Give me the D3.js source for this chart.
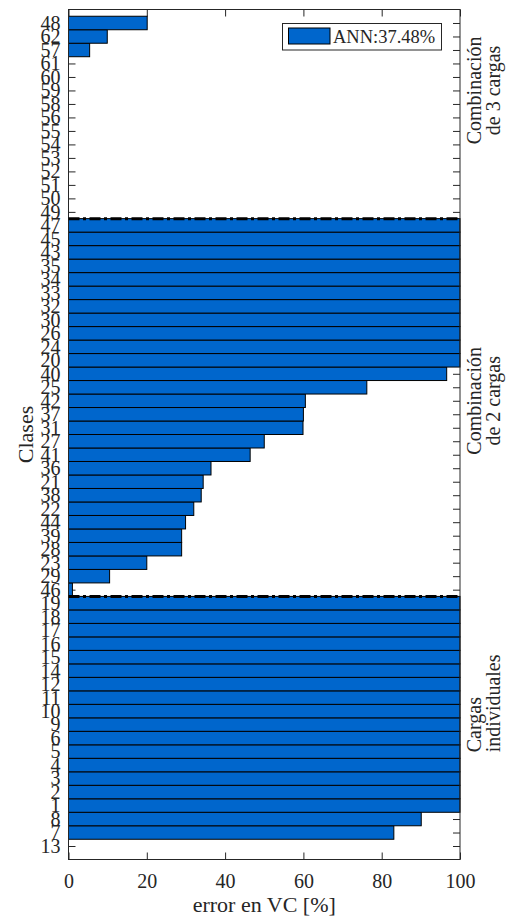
<!DOCTYPE html>
<html>
<head>
<meta charset="utf-8">
<script src="https://cdn.jsdelivr.net/npm/d3@7"></script>
<style>
  html, body { margin: 0; padding: 0; background: #fff; }
  svg { display: block; }
  text { font-family: "Liberation Serif", "Times New Roman", serif; fill: #262626; }
</style>
</head>
<body>
<svg id="chart" width="507" height="918"></svg>
<script>
// Classes, listed from the bottom of the axis to the top
const classes = [
  "13","7","8","1","2","3","4","5","6","9","10","11","12","14","15","16","17","18","19",
  "46","29","23","28","39","44","22","38","21","36","41","27","31","37","42","25","40",
  "20","24","26","30","32","33","34","35","43","45","47",
  "49","50","51","52","53","54","55","56","58","59","60","61","57","62","48"
];
// Error in VC [%] for each class (same order)
const errorVC = [
  0, 83.1, 90.1, 100, 100, 100, 100, 100, 100, 100, 100, 100, 100, 100, 100, 100, 100, 100, 100,
  1.0, 10.5, 20.0, 28.9, 28.9, 29.9, 32.0, 33.9, 34.4, 36.4, 46.4, 50.0, 59.9, 60.0, 60.5, 76.2, 96.6,
  100, 100, 100, 100, 100, 100, 100, 100, 100, 100, 100,
  0, 0, 0, 0, 0, 0, 0, 0, 0, 0, 0, 0, 5.4, 9.9, 20.1
];
// Groups of classes, bottom to top
const groupNames = [["Cargas", "individuales"], ["Combinación", "de 2 cargas"], ["Combinación", "de 3 cargas"]];
const groupSizes = [19, 28, 15];
const xTicks = [0, 20, 40, 60, 80, 100];
const legendText = "ANN:37.48%";

const svg = d3.select("#chart");
const L = 68.5, R = 460, T = 9.5, B = 859.5;
const barColor = "#0066cc";
const axisColor = "#262626";

const x = d3.scaleLinear().domain([0, 100]).range([L, R]);
const y = d3.scaleLinear().domain([0, classes.length + 1]).range([B, T]);
const pos = classes.map((c, i) => i + 1);

// Tick marks (drawn under the bars)
const tickLen = 7;
const g = svg.append("g");
const yLeft = d3.axisLeft(y).tickValues(pos).tickSize(-tickLen).tickFormat((d) => classes[d - 1]).tickPadding(8);
const yRight = d3.axisRight(y).tickValues(pos).tickSize(-tickLen).tickFormat("");
const xBottom = d3.axisBottom(x).tickValues(xTicks).tickSize(-tickLen).tickPadding(14).tickFormat(d3.format("d"));
const xTop = d3.axisTop(x).tickValues(xTicks).tickSize(-tickLen).tickFormat("");

function styleAxis(sel) {
  sel.select(".domain").remove();
  sel.selectAll(".tick line").attr("stroke", axisColor).attr("stroke-width", 1);
  sel.selectAll(".tick text").attr("font-size", 20).attr("fill", axisColor)
    .style("font-family", "'Liberation Serif', serif");
}
g.append("g").attr("transform", `translate(${L},0)`).call(yLeft).call(styleAxis);
g.append("g").attr("transform", `translate(${R},0)`).call(yRight).call(styleAxis);
g.append("g").attr("transform", `translate(0,${B})`).call(xBottom).call(styleAxis);
g.append("g").attr("transform", `translate(0,${T})`).call(xTop).call(styleAxis);

// Bars
const bh = Math.abs(y(1) - y(0));
svg.append("g").selectAll("rect").data(classes).join("rect")
  .attr("x", x(0))
  .attr("y", (d, i) => y(pos[i] + 0.5))
  .attr("width", (d, i) => x(errorVC[i]) - x(0))
  .attr("height", bh)
  .attr("fill", barColor)
  .attr("stroke", "#000")
  .attr("stroke-width", 1)
  .attr("stroke-opacity", (d, i) => errorVC[i] > 0 ? 1 : 0);

// Box
svg.append("rect").attr("x", L).attr("y", T).attr("width", R - L).attr("height", B - T)
  .attr("fill", "none").attr("stroke", axisColor).attr("stroke-width", 1);

// Group separators
const breaks = d3.cumsum(groupSizes).slice(0, -1).map((s) => s + 0.5);
svg.append("g").selectAll("line").data(breaks).join("line")
  .attr("x1", L).attr("x2", R)
  .attr("y1", (d) => y(d)).attr("y2", (d) => y(d))
  .attr("stroke", "#000").attr("stroke-width", 3)
  .attr("stroke-dasharray", "11,3.5,3,3.5");

// Group names on the right side
const groupAnchor = [
  { p: 7.95, anchor: "start" },
  { p: 34.0, anchor: "middle" },
  { p: 57.0, anchor: "middle" }
];
groupNames.forEach((lines, gi) => {
  const t = svg.append("text")
    .attr("transform", `translate(481,${y(groupAnchor[gi].p)}) rotate(-90)`)
    .attr("text-anchor", groupAnchor[gi].anchor)
    .attr("font-size", 20);
  lines.forEach((ln, li) => {
    t.append("tspan").attr("x", 0).attr("y", li * 18.5).text(ln);
  });
});

// Axis titles
svg.append("text").attr("x", (L + R) / 2).attr("y", 912).attr("text-anchor", "middle")
  .attr("font-size", 22).text("error en VC [%]");
svg.append("text").attr("transform", `translate(33,${(T + B) / 2}) rotate(-90)`)
  .attr("text-anchor", "middle").attr("font-size", 22).text("Clases");

// Legend
const lg = svg.append("g");
lg.append("rect").attr("x", 282.5).attr("y", 23.5).attr("width", 159).attr("height", 26.5)
  .attr("fill", "#fff").attr("stroke", axisColor).attr("stroke-width", 1);
lg.append("rect").attr("x", 288.5).attr("y", 28).attr("width", 41.5).attr("height", 16)
  .attr("fill", barColor).attr("stroke", "#000").attr("stroke-width", 1);
lg.append("text").attr("x", 333).attr("y", 43).attr("font-size", 18.5).text(legendText);
</script>
</body>
</html>
